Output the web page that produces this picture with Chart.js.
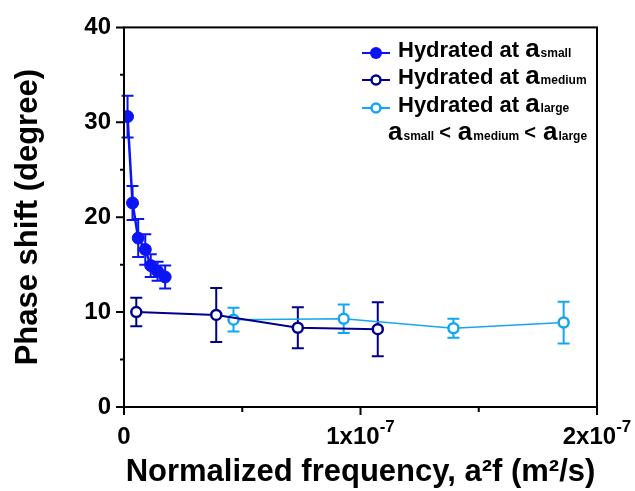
<!DOCTYPE html>
<html>
<head>
<meta charset="utf-8">
<script src="https://cdn.jsdelivr.net/npm/chart.js@4/dist/chart.umd.min.js"></script>
<style>
  body { margin: 0; background: #fff; }
  #chart { display: block; }
</style>
</head>
<body>
<canvas id="chart" width="635" height="491"></canvas>
<script>
// phase shift vs normalized frequency a^2 f, three hydration levels
const smallX = [1.5e-9, 3.6e-9, 6.0e-9, 9.0e-9, 11.3e-9, 14.2e-9, 17.4e-9];
const smallY = [30.6, 21.5, 17.8, 16.6, 14.9, 14.3, 13.7];
const smallErr = [2.2, 1.8, 2.0, 1.6, 1.2, 1.0, 1.2];

const mediumX = [5.2e-9, 39.0e-9, 73.5e-9, 107.3e-9];
const mediumY = [10.0, 9.7, 8.35, 8.2];
const mediumErr = [1.5, 2.85, 2.15, 2.85];

const largeX = [46.3e-9, 92.9e-9, 139.3e-9, 185.9e-9];
const largeY = [9.2, 9.3, 8.3, 8.9];
const largeErr = [1.25, 1.5, 1.0, 2.2];

const seriesNames = ["Hydrated at a", "Hydrated at a", "Hydrated at a"];
const seriesSubs = ["small", "medium", "large"];
const xTicks = [0, 1e-7, 2e-7];
const xTickLabels = [["0", ""], ["1x10", "-7"], ["2x10", "-7"]];

const FONT = "'Liberation Sans', Arial, sans-serif";
const cSmall = "#0a14f5";
const cMedium = "#00008c";
const cLarge = "#14a6f0";

const toPoints = (xs, ys, es) => xs.map((x, i) => ({ x: x, y: ys[i], err: es[i] }));

// vertical error bars with caps, under the markers
const errorBars = {
  id: "errorBars",
  beforeDatasetsDraw(chart) {
    const ctx = chart.ctx;
    const xs = chart.scales.x, ys = chart.scales.y;
    chart.data.datasets.forEach((ds) => {
      ctx.save();
      ctx.strokeStyle = ds.borderColor;
      ctx.lineWidth = 2;
      ds.data.forEach((p) => {
        const px = xs.getPixelForValue(p.x);
        const top = ys.getPixelForValue(p.y + p.err);
        const bot = ys.getPixelForValue(p.y - p.err);
        ctx.beginPath();
        ctx.moveTo(px, top); ctx.lineTo(px, bot);
        ctx.moveTo(px - 6, top); ctx.lineTo(px + 6, top);
        ctx.moveTo(px - 6, bot); ctx.lineTo(px + 6, bot);
        ctx.stroke();
      });
      ctx.restore();
    });
  }
};

// frame, outward tick marks, x tick labels with exponent, legend
const decorations = {
  id: "decorations",
  afterDraw(chart) {
    const ctx = chart.ctx;
    const a = chart.chartArea;
    const xs = chart.scales.x, ys = chart.scales.y;
    ctx.save();
    ctx.strokeStyle = "#000";
    ctx.lineWidth = 2;
    ctx.strokeRect(a.left, a.top, a.right - a.left, a.bottom - a.top);

    ctx.beginPath();
    for (let v = 0; v <= 40; v += 5) {
      const py = ys.getPixelForValue(v);
      const len = v % 10 === 0 ? 8 : 4;
      ctx.moveTo(a.left, py); ctx.lineTo(a.left - len, py);
    }
    for (let i = 0; i <= 4; i++) {
      const px = xs.getPixelForValue(i * 0.5e-7);
      const len = i % 2 === 0 ? 8 : 5;
      ctx.moveTo(px, a.bottom); ctx.lineTo(px, a.bottom + len);
    }
    ctx.stroke();

    // x tick labels
    ctx.fillStyle = "#000";
    ctx.textBaseline = "alphabetic";
    ctx.textAlign = "left";
    xTicks.forEach((v, i) => {
      const [base, sup] = xTickLabels[i];
      ctx.font = "bold 24px " + FONT;
      const wb = ctx.measureText(base).width;
      ctx.font = "bold 17px " + FONT;
      const ws = sup ? ctx.measureText(sup).width : 0;
      const x0 = xs.getPixelForValue(v) - (wb + ws) / 2;
      ctx.font = "bold 24px " + FONT;
      ctx.fillText(base, x0, 444);
      if (sup) {
        ctx.font = "bold 17px " + FONT;
        ctx.fillText(sup, x0 + wb, 432);
      }
    });

    // legend
    const rows = [53, 80, 108];
    const colors = [cSmall, cMedium, cLarge];
    rows.forEach((ry, i) => {
      ctx.strokeStyle = colors[i];
      ctx.lineWidth = 2;
      ctx.beginPath();
      ctx.moveTo(362, ry); ctx.lineTo(390, ry);
      ctx.stroke();
      ctx.beginPath();
      if (i === 0) {
        ctx.arc(376, ry, 6, 0, Math.PI * 2);
        ctx.fillStyle = colors[i];
        ctx.fill();
      } else {
        ctx.arc(376, ry, 4.5, 0, Math.PI * 2);
        ctx.fillStyle = "#fff";
        ctx.fill();
        ctx.lineWidth = 2.5;
        ctx.stroke();
      }
      const by = ry + 4;
      ctx.fillStyle = "#000";
      ctx.font = "bold 22px " + FONT;
      const name = seriesNames[i].slice(0, -1);
      ctx.fillText(name, 398, by);
      let x = 398 + ctx.measureText(name).width;
      ctx.font = "bold 26px " + FONT;
      ctx.fillText("a", x, by);
      x += ctx.measureText("a").width;
      ctx.font = "bold 12px " + FONT;
      ctx.fillText(seriesSubs[i], x + 1, by);
    });

    // ordering note under the legend
    let x = 388;
    const by = 140;
    seriesSubs.forEach((s, i) => {
      ctx.font = "bold 26px " + FONT;
      ctx.fillText("a", x, by);
      x += ctx.measureText("a").width;
      ctx.font = "bold 12px " + FONT;
      ctx.fillText(s, x + 1, by);
      x += ctx.measureText(s).width + 6;
      if (i < 2) {
        ctx.font = "bold 20px " + FONT;
        ctx.fillText("<", x, by - 1);
        x += ctx.measureText("<").width + 7;
      }
    });
    ctx.restore();
  }
};

const myChart = new Chart(document.getElementById("chart"), {
  type: "scatter",
  data: {
    datasets: [
      {
        label: "small",
        data: toPoints(smallX, smallY, smallErr),
        showLine: true,
        borderColor: cSmall,
        backgroundColor: cSmall,
        borderWidth: 2.5,
        pointRadius: 6,
        pointBorderWidth: 1,
        pointBackgroundColor: cSmall,
      },
      {
        label: "medium",
        data: toPoints(mediumX, mediumY, mediumErr),
        showLine: true,
        borderColor: cMedium,
        backgroundColor: cMedium,
        borderWidth: 2,
        pointRadius: 5,
        pointBorderWidth: 2.5,
        pointBackgroundColor: "#fff",
      },
      {
        label: "large",
        data: toPoints(largeX, largeY, largeErr),
        showLine: true,
        borderColor: cLarge,
        backgroundColor: cLarge,
        borderWidth: 1.5,
        pointRadius: 5,
        pointBorderWidth: 2.5,
        pointBackgroundColor: "#fff",
      },
    ],
  },
  options: {
    responsive: false,
    animation: false,
    devicePixelRatio: 1,
    layout: { padding: { left: 0, right: 38, top: 25, bottom: 0 } },
    plugins: {
      legend: { display: false },
      tooltip: { enabled: false },
    },
    scales: {
      x: {
        type: "linear",
        min: 0,
        max: 2e-7,
        grid: { display: false, drawTicks: false },
        border: { display: false },
        ticks: { display: false, stepSize: 0.5e-7 },
        title: {
          display: true,
          text: "Normalized frequency, a²f (m²/s)",
          color: "#000",
          font: { family: FONT, size: 31, weight: "bold" },
          padding: { top: 0, bottom: 0 },
        },
        afterFit: (scale) => { scale.height = 84; },
      },
      y: {
        min: 0,
        max: 40,
        grid: { display: false, drawTicks: false },
        border: { display: false },
        ticks: {
          stepSize: 10,
          padding: 13,
          color: "#000",
          font: { family: FONT, size: 24, weight: "bold" },
        },
        title: {
          display: true,
          text: "Phase shift (degree)",
          color: "#000",
          font: { family: FONT, size: 31, weight: "bold" },
          padding: { top: 10, bottom: 0 },
        },
        afterFit: (scale) => { scale.width = 124; },
      },
    },
  },
  plugins: [errorBars, decorations],
});
</script>
</body>
</html>
